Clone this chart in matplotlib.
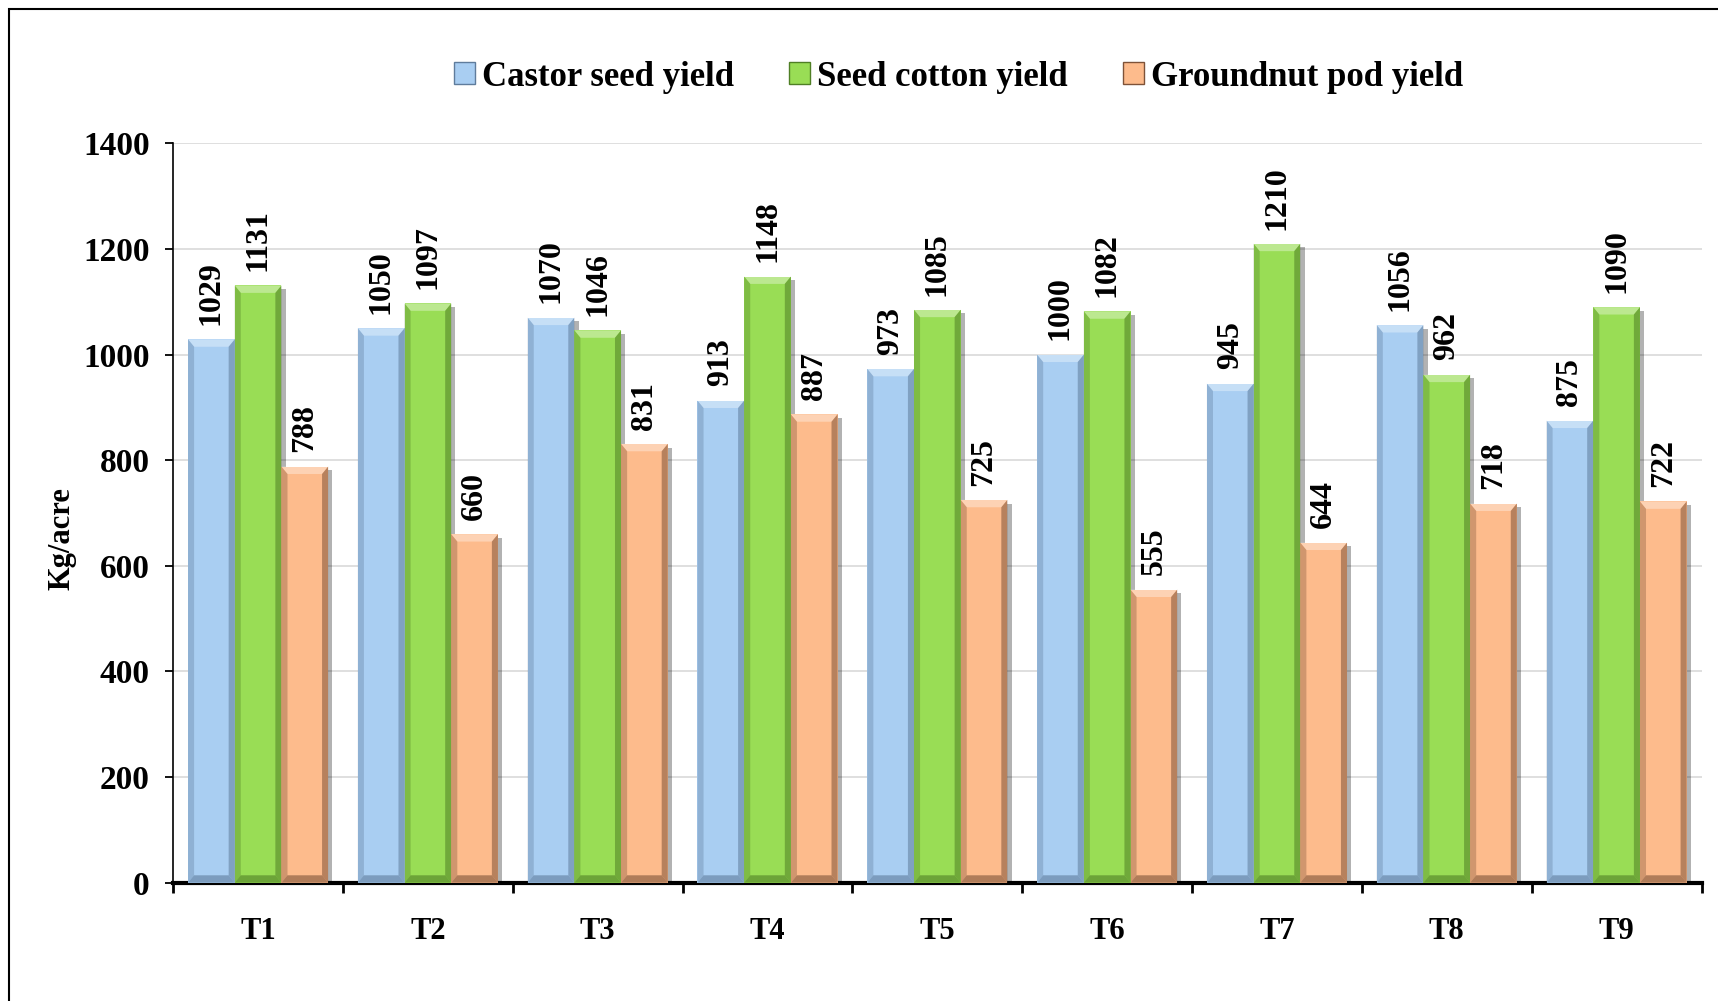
import matplotlib
matplotlib.use('Agg')
import matplotlib.pyplot as plt
from matplotlib.patches import Polygon, Rectangle
import numpy as np

categories = ['T1', 'T2', 'T3', 'T4', 'T5', 'T6', 'T7', 'T8', 'T9']
castor = [1029, 1050, 1070, 913, 973, 1000, 945, 1056, 875]
cotton = [1131, 1097, 1046, 1148, 1085, 1082, 1210, 962, 1090]
groundnut = [788, 660, 831, 887, 725, 555, 644, 718, 722]
series_names = ['Castor seed yield', 'Seed cotton yield', 'Groundnut pod yield']
y_ticks = [0, 200, 400, 600, 800, 1000, 1200, 1400]

faces = ['#A9CEF2', '#99DD55', '#FDBB8C']
darks = ['#5F7C9C', '#4F7F25', '#7E5238']

plt.rcParams['font.family'] = ['Liberation Serif', 'DejaVu Serif']
plt.rcParams['font.weight'] = 'bold'

fig = plt.figure(figsize=(17.18, 10.01), dpi=100)
ax = fig.add_axes([0.1008, 0.1182, 0.8896, 0.7385])

x = np.arange(len(categories))
w = 0.275
offsets = [-w, 0, w]
series = [castor, cotton, groundnut]

bx = w * 0.13
by = 14

for vals, off, fc, dc in zip(series, offsets, faces, darks):
    bars = ax.bar(x + off, vals, w, color=fc, linewidth=0, zorder=3)
    for rect, v in zip(bars, vals):
        x0 = rect.get_x()
        x1 = x0 + rect.get_width()
        h = rect.get_height()
        # drop shadow
        ax.add_patch(Rectangle((x1, 0), 0.025, h - by * 0.5, facecolor='#000000',
                               alpha=0.3, linewidth=0, zorder=2))
        # top bevel (light)
        ax.add_patch(Polygon([(x0, h), (x1, h), (x1 - bx, h - by), (x0 + bx, h - by)],
                             closed=True, facecolor='white', alpha=0.35, linewidth=0, zorder=4))
        # right bevel (dark)
        ax.add_patch(Polygon([(x1, h), (x1, 0), (x1 - bx, by), (x1 - bx, h - by)],
                             closed=True, facecolor=dc, alpha=0.55, linewidth=0, zorder=4))
        # left bevel
        ax.add_patch(Polygon([(x0, h), (x0 + bx, h - by), (x0 + bx, by), (x0, 0)],
                             closed=True, facecolor=dc, alpha=0.35, linewidth=0, zorder=4))
        # bottom bevel
        ax.add_patch(Polygon([(x0, 0), (x0 + bx, by), (x1 - bx, by), (x1, 0)],
                             closed=True, facecolor=dc, alpha=0.6, linewidth=0, zorder=4))
        ax.text(x0 + rect.get_width() / 2, h + 27, str(v), rotation=90,
                ha='center', va='bottom', fontsize=23, fontweight='bold', zorder=5)

ax.set_xlim(-0.5, len(categories) - 0.5)
ax.set_ylim(0, 1400)
ax.set_yticks(y_ticks)
ax.set_yticklabels([str(t) for t in y_ticks], fontsize=24, fontweight='bold')
ax.grid(axis='y', color='#D9D9D9', linewidth=1.2, zorder=0)
ax.set_axisbelow(True)

ax.set_xticks(x)
ax.set_xticklabels(categories, fontsize=22, fontweight='bold')
ax.set_xticks(np.arange(-0.5, len(categories), 1.0), minor=True)
ax.tick_params(axis='x', which='major', length=0, pad=25)
ax.tick_params(axis='x', which='minor', length=7, width=2, direction='out', color='black')
ax.tick_params(axis='y', which='major', length=6, width=1.3, pad=11, direction='out')

for s in ['top', 'right']:
    ax.spines[s].set_visible(False)
ax.spines['bottom'].set_linewidth(3)
ax.spines['left'].set_linewidth(1.2)

ax.set_ylabel('Kg/acre', fontsize=22, fontweight='bold')
ax.yaxis.set_label_coords(-0.063, 0.465)

handles = [Rectangle((0, 0), 1, 1, facecolor=fc, edgecolor=dc, linewidth=1.0)
           for fc, dc in zip(faces, darks)]
fig.legend(handles, series_names, loc='center', bbox_to_anchor=(0.558, 0.923), ncol=3,
           frameon=False, prop={'size': 25, 'weight': 'bold'}, handlelength=0.6,
           handleheight=0.6, handletextpad=0.2, columnspacing=1.6)

# outer frame
fig.add_artist(Rectangle((0.005, -0.2), 1.2, 1.191, transform=fig.transFigure,
                         fill=False, edgecolor='black', linewidth=1.5, clip_on=False))

fig.savefig('out.png', dpi=100)
